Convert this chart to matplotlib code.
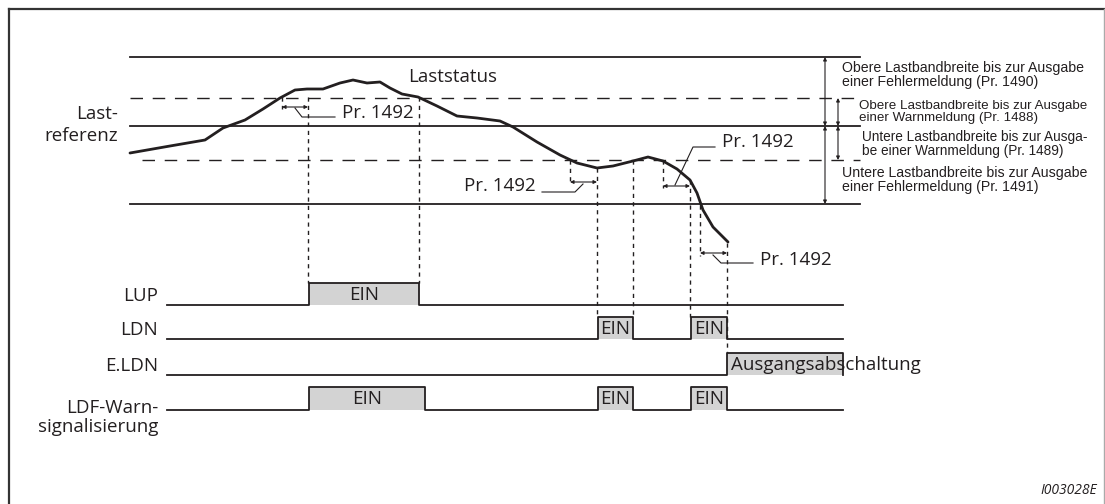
import numpy as np
import matplotlib
matplotlib.use('Agg')
import matplotlib.pyplot as plt

# load curve (Laststatus) in pixel units
curve_x = [130, 170, 205, 223, 245, 263, 280, 295, 307, 323, 340, 353, 367, 380,
           390, 402, 418, 437, 457, 477, 500, 513, 537, 560, 577, 597, 613, 633,
           648, 663, 677, 690, 697, 703, 713, 728]
curve_y = [153, 146, 140, 128, 120, 109, 98, 90, 89, 89, 83, 80, 83, 82,
           88, 94, 97, 106, 116, 118, 121, 127, 142, 155, 163, 168, 166, 161,
           157, 161, 169, 180, 193, 210, 227, 242]

# band levels
band_x0, band_x1 = 130, 860
level_solid = [57, 126, 204]
level_dash = [98, 160]

# signal rows: label, baseline, high level, (on, off) pairs
sig_labels = ['LUP', 'LDN', 'E.LDN', 'LDF-Warn-\nsignalisierung']
sig_base = [305, 339, 375, 410]
sig_high = [283, 317, 353, 387]
sig_pulses = [[(309, 419)],
              [(598, 633), (691, 727)],
              [(727, 843)],
              [(309, 425), (598, 633), (691, 727)]]
sig_text = [['EIN'], ['EIN', 'EIN'], ['Ausgangsabschaltung'], ['EIN', 'EIN', 'EIN']]
sig_x0, sig_x1 = 167, 843

# Pr. 1492 delay intervals (start, end, arrow y)
delay = [(282, 308, 107), (570, 597, 182), (663, 690, 186), (700, 727, 253)]
delay_text = ['Pr. 1492'] * 4

# dashed guide lines (x, y_top, y_bottom)
guides = [(308, 97, 283), (419, 97, 283), (597, 168, 317), (633, 160, 317),
          (690, 180, 317), (727, 243, 353), (282, 97, 109), (570, 160, 185),
          (663, 160, 188), (700, 205, 256)]

band_notes = ['Obere Lastbandbreite bis zur Ausgabe\neiner Fehlermeldung (Pr. 1490)',
              'Obere Lastbandbreite bis zur Ausgabe\neiner Warnmeldung (Pr. 1488)',
              'Untere Lastbandbreite bis zur Ausga-\nbe einer Warnmeldung (Pr. 1489)',
              'Untere Lastbandbreite bis zur Ausgabe\neiner Fehlermeldung (Pr. 1491)']
note_size = [10.2, 9.6, 9.8, 10.2]

ink = '#231f20'
fam = ['Open Sans', 'DejaVu Sans']
narrow = ['Liberation Sans', 'DejaVu Sans']
fs = 13.5

fig = plt.figure(figsize=(11.05, 5.04), dpi=100)
ax = fig.add_axes([0, 0, 1, 1])
ax.set_xlim(0, 1105)
ax.set_ylim(504, 0)
ax.axis('off')

# frame
ax.plot([9, 9], [9, 510], color='#333333', lw=1.6)
ax.plot([9, 1104], [9, 9], color='#333333', lw=1.6)
ax.plot([1104, 1104], [9, 510], color='#aaaaaa', lw=1.0)

# band lines
for y in level_solid:
    ax.plot([band_x0, band_x1], [y, y], color=ink, lw=1.3)
ax.plot([band_x0, band_x1], [level_dash[0]] * 2, color=ink, lw=1.0,
        dashes=(9, 7))
ax.plot([142, band_x1], [level_dash[1]] * 2, color=ink, lw=1.0,
        dashes=(9, 7))

# load curve
ax.plot(curve_x, curve_y, color=ink, lw=2.0, solid_capstyle='round',
        solid_joinstyle='round')
ax.text(408, 77, 'Laststatus', fontsize=fs, color=ink, family=fam,
        va='center', ha='left')
ax.text(118, 114, 'Last-', fontsize=fs, color=ink, family=fam, va='center', ha='right')
ax.text(118, 136, 'referenz', fontsize=fs, color=ink, family=fam, va='center', ha='right')

# guides
for x, y0, y1 in guides:
    ax.plot([x, x], [y0, y1], color=ink, lw=1.0, dashes=(3, 3))

# delay arrows
for (xa, xb, y) in delay:
    ax.annotate('', xy=(xa, y), xytext=(xb, y),
                arrowprops=dict(arrowstyle='<|-|>', color=ink, lw=0.8,
                                mutation_scale=5, shrinkA=0, shrinkB=0))
# leader lines + labels
ax.plot([295, 302, 335], [108, 117, 117], color=ink, lw=0.8)
ax.text(342, 113, delay_text[0], fontsize=fs, color=ink, family=fam, va='center')
ax.plot([583, 575, 542], [184, 192, 192], color=ink, lw=0.8)
ax.text(536, 186, delay_text[1], fontsize=fs, color=ink, family=fam, va='center', ha='right')
ax.plot([675, 693, 715], [185, 147, 147], color=ink, lw=0.8)
ax.text(722, 142, delay_text[2], fontsize=fs, color=ink, family=fam, va='center')
ax.plot([713, 721, 753], [255, 263, 263], color=ink, lw=0.8)
ax.text(760, 260, delay_text[3], fontsize=fs, color=ink, family=fam, va='center')

# band width arrows on the right
for x, ya, yb in [(825, 57, 126), (838, 98, 126), (825, 126, 204), (838, 126, 160)]:
    ax.annotate('', xy=(x, ya), xytext=(x, yb),
                arrowprops=dict(arrowstyle='<|-|>', color=ink, lw=0.8,
                                mutation_scale=5, shrinkA=0, shrinkB=0))
note_pos = [(842, 75), (859, 112), (862, 144), (842, 180)]
for (x, y), s, sz in zip(note_pos, band_notes, note_size):
    ax.text(x, y, s, fontsize=sz, color=ink, family=narrow, va='center',
            ha='left', linespacing=0.95)

# signals
for lab, yb, yh, pulses, texts in zip(sig_labels, sig_base, sig_high, sig_pulses, sig_text):
    xs, ys = [sig_x0], [yb]
    for (a, b) in pulses:
        xs += [a, a, b, b]
        ys += [yb, yh, yh, yb]
    if xs[-1] < sig_x1:
        xs.append(sig_x1)
        ys.append(yb)
    ax.plot(xs, ys, color=ink, lw=1.3)
    for (a, b), t in zip(pulses, texts):
        ax.fill_between([a, b], yh, yb, color='#d3d3d3', lw=0, zorder=0)
        if len(t) > 3:
            ax.text(a + 4, (yb + yh) / 2 + 1, t, fontsize=fs, color=ink, family=fam,
                    va='center', ha='left')
        else:
            ax.text((a + b) / 2, (yb + yh) / 2 + 1, t, fontsize=fs, color=ink,
                    family=fam, va='center', ha='center')
    if '\n' in lab:
        ax.text(158, yb - 11, lab, fontsize=fs, color=ink, family=fam,
                va='top', ha='right', linespacing=1.05)
    else:
        ax.text(158, (yb + yh) / 2 + 2, lab, fontsize=fs, color=ink, family=fam,
                va='center', ha='right')

ax.text(1097, 490, 'I003028E', fontsize=10, style='italic', color=ink,
        family=fam, ha='right', va='center')

fig.savefig('out.png', dpi=100)
